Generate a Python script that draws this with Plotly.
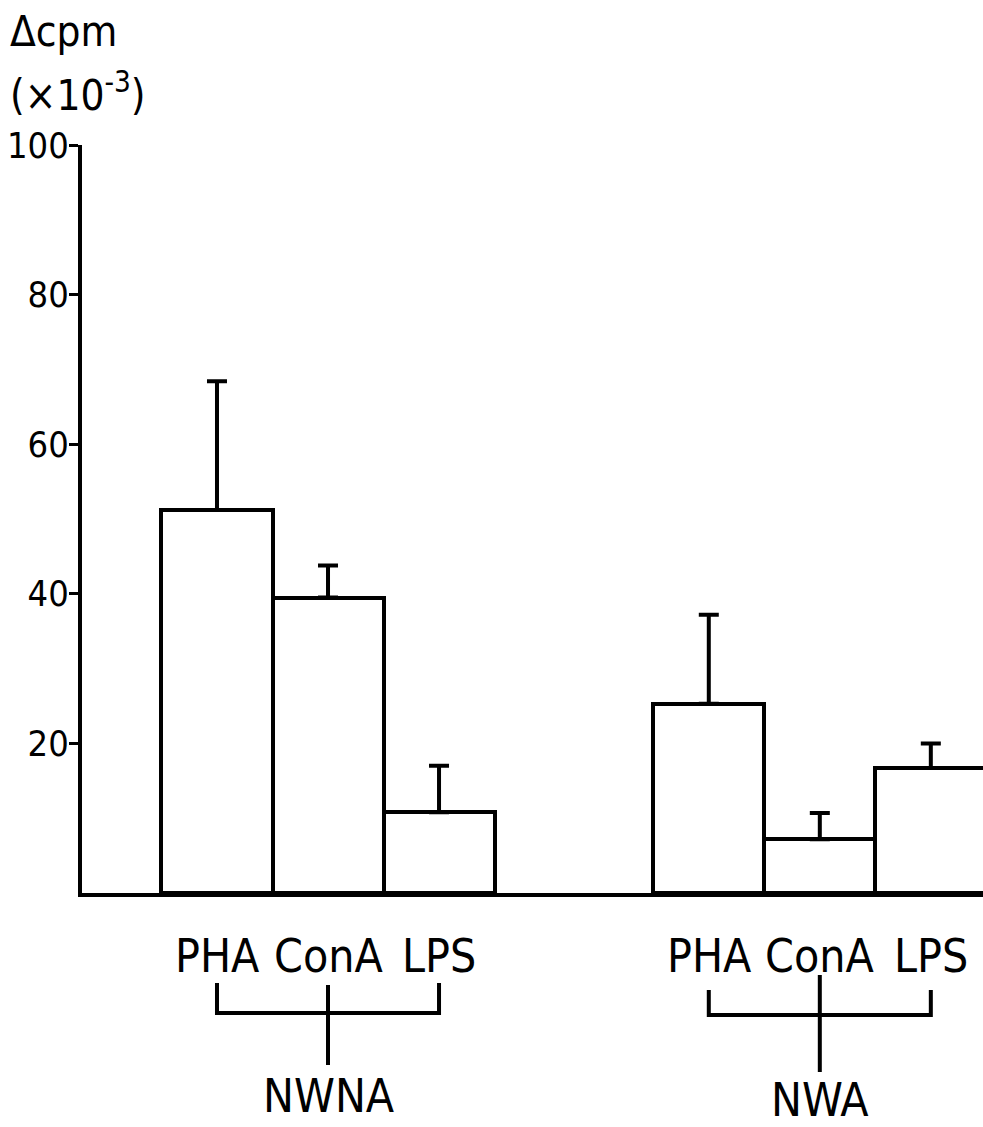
import plotly.graph_objects as go

# Mitogen response (delta cpm x 10^-3), mean and upper SE bar
groups = ["NWNA", "NWA"]
mitogens = ["PHA", "ConA", "LPS"]
nwna_mean = [51.2, 39.5, 10.8]
nwna_se = [17.2, 4.3, 6.2]
nwa_mean = [25.3, 7.2, 16.7]
nwa_se = [11.9, 3.5, 3.3]
y_ticks = [20, 40, 60, 80, 100]

# ---- layout constants (pixels / axis units) ----
W, H = 983, 1127
ML, MR, MT, MB = 82, 0, 145, 234
GROUP_OFFSETS = [0.0, 4.43]          # x start of each group, in bar widths
X_RANGE = [-1.216, 6.90]
FONT = "DejaVu Sans Condensed, DejaVu Sans, sans-serif"

plot_w = W - ML - MR
plot_h = H - MT - MB


def py(pix):
    """Paper y coordinate for a pixel row of the page."""
    return (H - MB - pix) / plot_h


def pxp(pix):
    """Paper x coordinate for a pixel column of the page."""
    return (pix - ML) / plot_w


def px(xval):
    """Paper x coordinate for a data x value."""
    return (xval - X_RANGE[0]) / (X_RANGE[1] - X_RANGE[0])


means = [nwna_mean, nwa_mean]
ses = [nwna_se, nwa_se]

xs, ys, es = [], [], []
for off, m, s in zip(GROUP_OFFSETS, means, ses):
    for i in range(len(mitogens)):
        xs.append(off + i)
        ys.append(m[i])
        es.append(s[i])

fig = go.Figure()
fig.add_trace(go.Bar(
    x=xs, y=ys, width=1.0,
    marker=dict(color="white", line=dict(color="black", width=4)),
    error_y=dict(type="data", symmetric=False, array=es,
                 arrayminus=[0] * len(es), color="black",
                 thickness=4, width=10),
    showlegend=False,
))

annotations = []
shapes = []
# bracket geometry per group: (end tops, horizontal, stem top, stem bottom, label y)
bracket_rows = [(983, 1013, 985, 1065, 1096), (990, 1015, 975, 1072, 1100)]
for off, grp, rows in zip(GROUP_OFFSETS, groups, bracket_rows):
    end_top, horiz, stem_top, stem_bot, lab_y = rows
    for i, name in enumerate(mitogens):
        annotations.append(dict(
            x=px(off + i), y=py(956), xref="paper", yref="paper",
            text=name, showarrow=False, xanchor="center", yanchor="middle",
            font=dict(family=FONT, size=46, color="black")))
    left, mid, right = px(off), px(off + 1), px(off + 2)
    line = dict(color="black", width=4)
    shapes.append(dict(type="path", xref="paper", yref="paper",
                       path=f"M {left},{py(end_top)} L {left},{py(horiz)} "
                            f"L {right},{py(horiz)} L {right},{py(end_top)}",
                       line=line))
    shapes.append(dict(type="line", xref="paper", yref="paper",
                       x0=mid, x1=mid, y0=py(stem_top), y1=py(stem_bot),
                       line=line))
    annotations.append(dict(
        x=mid, y=py(lab_y), xref="paper", yref="paper", text=grp,
        showarrow=False, xanchor="center", yanchor="middle",
        font=dict(family=FONT, size=46, color="black")))

# y-axis title block in the top-left corner
annotations.append(dict(x=pxp(8), y=py(32), xref="paper", yref="paper",
                        text="Δcpm", showarrow=False, xanchor="left",
                        yanchor="middle",
                        font=dict(family=FONT, size=42, color="black")))
annotations.append(dict(x=pxp(8), y=py(92), xref="paper", yref="paper",
                        text="(×10<sup>-3</sup>)", showarrow=False,
                        xanchor="left", yanchor="middle",
                        font=dict(family=FONT, size=42, color="black")))

fig.update_layout(
    width=W, height=H,
    margin=dict(l=ML, r=MR, t=MT, b=MB, pad=0, autoexpand=False),
    paper_bgcolor="white", plot_bgcolor="white",
    bargap=0,
    xaxis=dict(range=X_RANGE, showgrid=False, zeroline=False,
               showline=True, linecolor="black", linewidth=4,
               showticklabels=False, ticks="", automargin=False),
    yaxis=dict(range=[0, 100], showgrid=False, zeroline=False,
               showline=True, linecolor="black", linewidth=4,
               ticks="outside", ticklen=9, tickwidth=3, tickcolor="black",
               tickvals=y_ticks, ticktext=[str(v) for v in y_ticks],
               tickfont=dict(family=FONT, size=36, color="black"),
               ticklabelstandoff=-7, automargin=False),
    annotations=annotations,
    shapes=shapes,
)

fig.write_html("out.html")
